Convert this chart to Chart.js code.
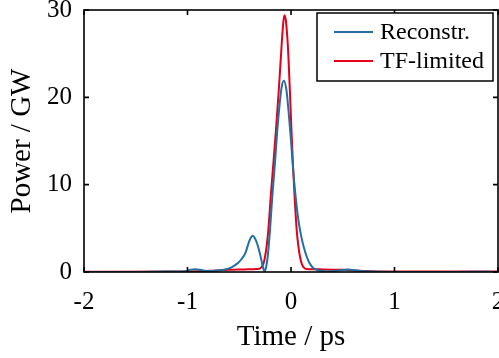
<!DOCTYPE html>
<html lang="en">
<head>
  <meta charset="UTF-8" />
  <title>Power vs time</title>
  <script src="https://cdn.jsdelivr.net/npm/chart.js"></script>
  <style>
    body { margin: 0; background: #fff; }
    #wrap { width: 499px; height: 358px; }
  </style>
</head>
<body>
<div id="wrap"><canvas id="pulse" width="499" height="358"></canvas></div>
<script>
  // Reconstructed pulse
  const timeReco = [-2.0, -1.5, -1.2, -1.1, -1.02, -0.97, -0.93, -0.88, -0.82, -0.76, -0.70, -0.64,
    -0.59, -0.55, -0.51, -0.47, -0.44, -0.41, -0.39, -0.37, -0.35, -0.326, -0.30, -0.285, -0.27,
    -0.255, -0.24, -0.225, -0.203, -0.181, -0.155, -0.132, -0.11, -0.09, -0.068, -0.045, -0.025,
    -0.005, 0.015, 0.03, 0.045, 0.065, 0.087, 0.12, 0.152, 0.18, 0.215, 0.26, 0.32, 0.4, 0.48,
    0.55, 0.62, 0.72, 0.85, 1.2, 1.6, 1.9, 2.0];
  const powerReco = [0, 0, 0.05, 0.05, 0.1, 0.25, 0.32, 0.25, 0.12, 0.12, 0.18, 0.28,
    0.45, 0.7, 1.05, 1.6, 2.2, 3.3, 3.9, 4.15, 3.9, 3.2, 2.1, 1.3, 0.5,
    0.05, 0.6, 1.75, 4.8, 8.6, 12.5, 16.3, 19.2, 21.2, 21.9, 20.9, 18.6,
    15.8, 12.6, 10.4, 8.6, 6.5, 4.8, 3.0, 1.75, 1.0, 0.45, 0.2, 0.1, 0.1, 0.2,
    0.28, 0.2, 0.08, 0.02, 0, 0, 0.03, 0];

  // Transform-limited pulse
  const timeTF = [-2.0, -1.0, -0.75, -0.6, -0.45, -0.33, -0.30, -0.283, -0.265, -0.251, -0.235,
    -0.219, -0.196, -0.17, -0.145, -0.12, -0.10, -0.08, -0.065, -0.05, -0.03, -0.01, 0.005,
    0.02, 0.035, 0.055, 0.072, 0.087, 0.105, 0.125, 0.15, 0.3, 0.5, 0.7, 0.9, 1.5, 2.0];
  const powerTF = [0.02, 0.05, 0.15, 0.25, 0.3, 0.35, 0.4, 0.6, 1.0, 1.75, 3.0,
    4.8, 8.6, 12.5, 16.3, 20.5, 24.2, 27.8, 29.4, 28.8, 25.8, 20.5, 16.0,
    12.0, 8.6, 4.8, 2.9, 1.75, 0.9, 0.5, 0.35, 0.3, 0.25, 0.12, 0.05, 0.05, 0.05];

  const seriesNames = ['Reconstr.', 'TF-limited'];
  const xTicks = [-2, -1, 0, 1, 2];
  const yTicks = [0, 10, 20, 30];

  const FONT = "'Liberation Serif', 'Times New Roman', serif";

  function toPoints(xs, ys) {
    return xs.map((x, i) => ({ x: x, y: ys[i] }));
  }

  // frame box, inward ticks and the legend box
  const framePlugin = {
    id: 'frame',
    afterDraw(chart) {
      const ctx = chart.ctx;
      const a = chart.chartArea;
      const xs = chart.scales.x, ys = chart.scales.y;
      const tl = 5;
      ctx.save();
      ctx.strokeStyle = '#000';
      ctx.lineWidth = 1.6;
      ctx.strokeRect(a.left, a.top, a.right - a.left, a.bottom - a.top);
      ctx.beginPath();
      xTicks.forEach(v => {
        const px = xs.getPixelForValue(v);
        ctx.moveTo(px, a.bottom); ctx.lineTo(px, a.bottom - tl);
        ctx.moveTo(px, a.top); ctx.lineTo(px, a.top + tl);
      });
      yTicks.forEach(v => {
        const py = ys.getPixelForValue(v);
        ctx.moveTo(a.left, py); ctx.lineTo(a.left + tl, py);
        ctx.moveTo(a.right, py); ctx.lineTo(a.right - tl, py);
      });
      ctx.stroke();

      // legend
      const bx = 317, by = 13, bw = 176, bh = 68;
      ctx.fillStyle = '#fff';
      ctx.fillRect(bx, by, bw, bh);
      ctx.lineWidth = 1.5;
      ctx.strokeRect(bx, by, bw, bh);
      ctx.font = '24px ' + FONT;
      ctx.textBaseline = 'middle';
      ctx.textAlign = 'left';
      chart.data.datasets.forEach((ds, i) => {
        const ly = by + 19 + i * 29;
        ctx.strokeStyle = ds.borderColor;
        ctx.lineWidth = 2;
        ctx.beginPath();
        ctx.moveTo(bx + 17, ly); ctx.lineTo(bx + 56, ly);
        ctx.stroke();
        ctx.fillStyle = '#000';
        ctx.fillText(ds.label, bx + 63, ly + 1);
      });
      ctx.restore();
    }
  };

  new Chart(document.getElementById('pulse').getContext('2d'), {
    type: 'line',
    data: {
      datasets: [
        {
          label: seriesNames[0],
          data: toPoints(timeReco, powerReco),
          borderColor: '#236fa1',
          borderWidth: 2,
          pointRadius: 0,
          cubicInterpolationMode: 'monotone',
          fill: false
        },
        {
          label: seriesNames[1],
          data: toPoints(timeTF, powerTF),
          borderColor: '#e2001a',
          borderWidth: 2,
          pointRadius: 0,
          cubicInterpolationMode: 'monotone',
          fill: false
        }
      ]
    },
    options: {
      responsive: false,
      animation: false,
      layout: { padding: { top: 10, right: 1, left: 0, bottom: 0 } },
      plugins: {
        legend: { display: false },
        tooltip: { enabled: false }
      },
      scales: {
        x: {
          type: 'linear',
          min: -2,
          max: 2,
          afterBuildTicks: s => { s.ticks = xTicks.map(v => ({ value: v })); },
          afterFit: s => { s.height = 86; s.paddingLeft = 0; s.paddingRight = 0; },
          grid: { display: false, drawTicks: false },
          border: { display: false },
          ticks: {
            padding: 15,
            color: '#000',
            font: { family: FONT, size: 25 },
            maxRotation: 0,
            callback: v => String(v)
          },
          title: {
            display: true,
            text: 'Time / ps',
            color: '#000',
            font: { family: FONT, size: 29 },
            padding: { top: 0, bottom: 3 }
          }
        },
        y: {
          min: 0,
          max: 30,
          afterBuildTicks: s => { s.ticks = yTicks.map(v => ({ value: v })); },
          afterFit: s => { s.width = 84; s.paddingTop = 0; s.paddingBottom = 0; },
          grid: { display: false, drawTicks: false },
          border: { display: false },
          ticks: {
            padding: 12,
            color: '#000',
            font: { family: FONT, size: 25 },
            callback: v => String(v)
          },
          title: {
            display: true,
            text: 'Power / GW',
            color: '#000',
            font: { family: FONT, size: 29 },
            padding: { top: 5, bottom: 4 }
          }
        }
      }
    },
    plugins: [framePlugin]
  });
</script>
</body>
</html>
